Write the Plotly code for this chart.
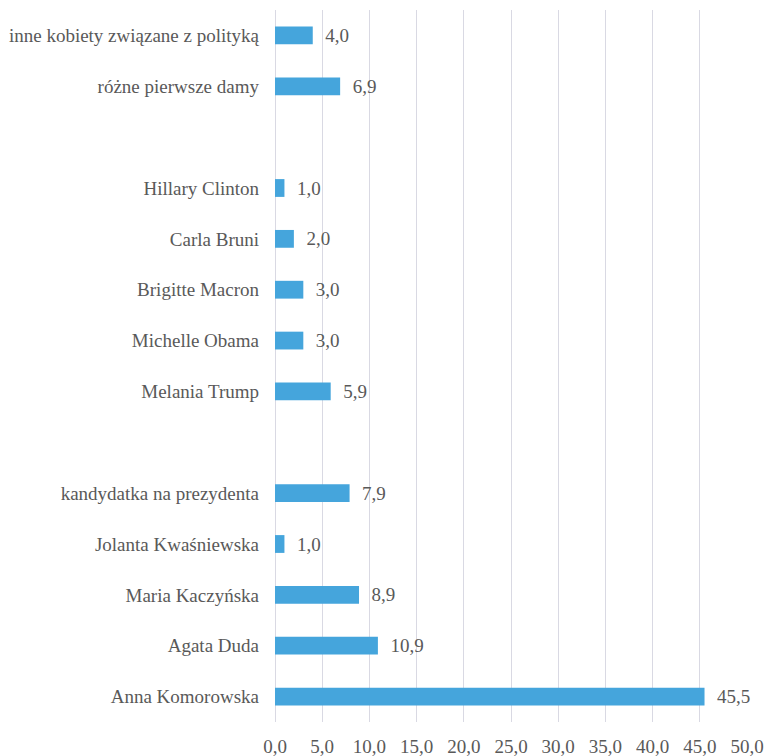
import plotly.graph_objects as go

labels = [
    "Anna Komorowska", "Agata Duda", "Maria Kaczyńska", "Jolanta Kwaśniewska",
    "kandydatka na prezydenta", "",
    "Melania Trump", "Michelle Obama", "Brigitte Macron", "Carla Bruni", "Hillary Clinton", "",
    "różne pierwsze damy", "inne kobiety związane z polityką",
]
values = [45.5, 10.9, 8.9, 1.0, 7.9, None, 5.9, 3.0, 3.0, 2.0, 1.0, None, 6.9, 4.0]
xticks = [0, 5, 10, 15, 20, 25, 30, 35, 40, 45, 50]

pos = list(range(len(labels)))
bx, by, bt = [], [], []
for p, v in zip(pos, values):
    if v is not None:
        bx.append(v)
        by.append(p)
        bt.append("  " + f"{v:.1f}".replace(".", ","))

font = "Liberation Serif"
fig = go.Figure(go.Bar(
    x=bx, y=by, orientation="h", width=0.35,
    marker=dict(color="#45a5dc", line=dict(width=0)),
    text=bt, textposition="outside", cliponaxis=False, constraintext="none",
    textfont=dict(family=font, size=19, color="#595959"),
))
fig.update_layout(
    width=766, height=756,
    margin=dict(l=275, r=19, t=10, b=34),
    paper_bgcolor="white", plot_bgcolor="white",
    showlegend=False,
    separators=", ",
    font=dict(family=font, size=19, color="#595959"),
    xaxis=dict(
        range=[0, 50], tickvals=xticks, tickformat=".1f", automargin=False,
        showgrid=True, gridcolor="#d9d9e3", gridwidth=1.3,
        zeroline=True, zerolinecolor="#d9d9e3", zerolinewidth=1.3,
        showline=False, ticks="", ticklabelstandoff=11,
    ),
    yaxis=dict(
        range=[-0.5, len(labels) - 0.5], automargin=False,
        tickvals=pos, ticktext=labels,
        showgrid=False, zeroline=False, showline=False, ticks="",
        ticklabelstandoff=15,
    ),
)
fig.write_html(
    "out.html",
    config={"displayModeBar": False},
    post_script="document.body.style.margin='0';document.body.style.overflow='hidden';",
)
